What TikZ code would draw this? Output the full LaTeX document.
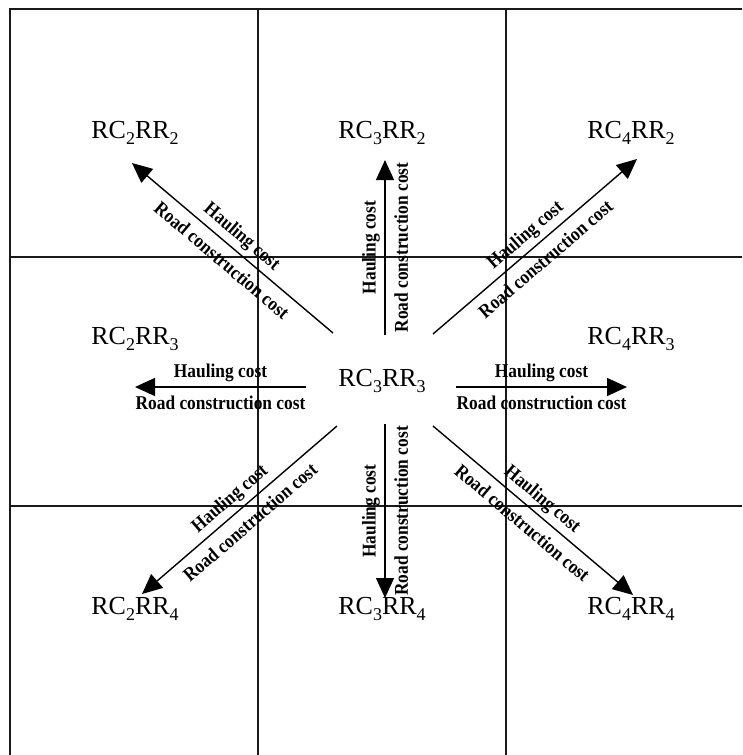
\documentclass[tikz,border=0pt]{standalone}
\usepackage{fontspec}
\setmainfont{Liberation Serif}
\newfontfamily\costfont[FakeStretch=0.89]{Liberation Serif}
\usepackage{tikz}
\usetikzlibrary{arrows.meta, positioning, calc}
\newcommand{\cellsub}[1]{\raisebox{-6pt}{\fontsize{18}{18}\selectfont #1}}
\newcommand{\rcrr}[2]{RC\cellsub{#1}RR\cellsub{#2}}
\tikzset{
  gridLine/.style = {line width=1.6pt, black!90},
  cellLabel/.style = {anchor=base, inner sep=0pt, font=\fontsize{26}{30}\selectfont},% RC/RR labels
  costArrow/.style = {line width=1.4pt, -{Triangle[length=20pt, width=18pt]}},
  costBack/.style = {line width=1.4pt, {Triangle[length=20pt, width=18pt]}-},% drawn tip first
  costText/.style = {midway, sloped, inner sep=2pt, font=\costfont\bfseries\fontsize{19.5}{22}\selectfont},
  haulLabel/.style = {costText, above=2.3pt},
  roadLabel/.style = {costText, below=6.6pt},
}
\begin{document}
\begin{tikzpicture}[x=1pt, y=-1pt]
\useasboundingbox (0,0) rectangle (742,755);
% grid
\draw[gridLine] (10,755) -- (10,9) -- (742,9);
\foreach \gx in {258,506}
  \draw[gridLine] (\gx,9) -- (\gx,755);
\foreach \gy in {257,506}
  \draw[gridLine] (10,\gy) -- (742,\gy);

% cell labels
\node[cellLabel] (c22) at (135,138) {\rcrr{2}{2}};
\node[cellLabel] (c32) at (382,138) {\rcrr{3}{2}};
\node[cellLabel] (c42) at (631,138) {\rcrr{4}{2}};
\node[cellLabel] (c23) at (135,344) {\rcrr{2}{3}};
\node[cellLabel] (c33) at (382,386) {\rcrr{3}{3}};
\node[cellLabel] (c43) at (631,344) {\rcrr{4}{3}};
\node[cellLabel] (c24) at (135,614) {\rcrr{2}{4}};
\node[cellLabel] (c34) at (382,614) {\rcrr{3}{4}};
\node[cellLabel] (c44) at (631,614) {\rcrr{4}{4}};

% arrow ends round the centre
\coordinate (nBase) at (385,335);  \coordinate (nTip) at (385,160);
\coordinate (sBase) at (385,424);  \coordinate (sTip) at (385,598);
\coordinate (wBase) at (306,387);  \coordinate (wTip) at (135,387);
\coordinate (eBase) at (456,387);  \coordinate (eTip) at (627,387);
\coordinate (nwBase) at (333,333); \coordinate (nwTip) at (132,163);
\coordinate (neBase) at (433,334); \coordinate (neTip) at (637,159);
\coordinate (swBase) at (337,426); \coordinate (swTip) at (142,594);
\coordinate (seBase) at (433,426); \coordinate (seTip) at (633,595);

\foreach \a in {n,ne,e,se,sw,w,nw}
  \draw[costArrow] (\a Base) -- node[haulLabel]{Hauling cost} node[roadLabel]{Road construction cost} (\a Tip);
% the down arrow is drawn backwards so that its text reads upwards
\draw[costBack] (sTip) -- node[haulLabel]{Hauling cost} node[roadLabel]{Road construction cost} (sBase);
\end{tikzpicture}
\end{document}
